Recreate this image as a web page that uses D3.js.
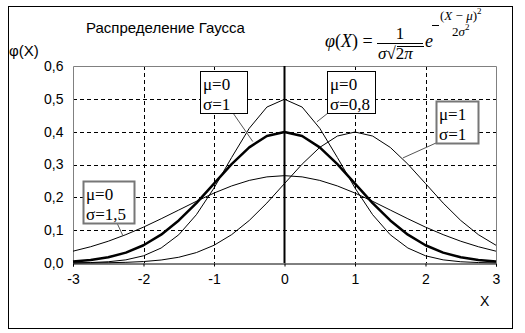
<!DOCTYPE html>
<html>
<head>
<meta charset="utf-8">
<script src="https://cdn.jsdelivr.net/npm/d3@7"></script>
<style>
  body { margin: 0; background: #fff; }
</style>
</head>
<body>
<svg id="chart" width="525" height="333"></svg>
<script>
// x values, step 0.25 from -3 to 3
const xs = [-3, -2.75, -2.5, -2.25, -2, -1.75, -1.5, -1.25, -1, -0.75, -0.5, -0.25, 0,
  0.25, 0.5, 0.75, 1, 1.25, 1.5, 1.75, 2, 2.25, 2.5, 2.75, 3];

// mu=0, sigma=1 (bold)
const s1 = [0.0044, 0.0091, 0.0175, 0.0317, 0.054, 0.0863, 0.1295, 0.1826, 0.242, 0.3011, 0.3521, 0.3867, 0.3989,
  0.3867, 0.3521, 0.3011, 0.242, 0.1826, 0.1295, 0.0863, 0.054, 0.0317, 0.0175, 0.0091, 0.0044];
// mu=0, sigma=0.8
const s08 = [0.0004, 0.0014, 0.0038, 0.0096, 0.0219, 0.0456, 0.086, 0.1471, 0.2283, 0.3213, 0.4102, 0.4749, 0.4987,
  0.4749, 0.4102, 0.3213, 0.2283, 0.1471, 0.086, 0.0456, 0.0219, 0.0096, 0.0038, 0.0014, 0.0004];
// mu=0, sigma=1.5
const s15 = [0.036, 0.0495, 0.0663, 0.0864, 0.1093, 0.1347, 0.1613, 0.1879, 0.213, 0.2347, 0.2516, 0.2623, 0.266,
  0.2623, 0.2516, 0.2347, 0.213, 0.1879, 0.1613, 0.1347, 0.1093, 0.0864, 0.0663, 0.0495, 0.036];
// mu=1, sigma=1
const m1 = [0.0001, 0.0004, 0.0009, 0.002, 0.0044, 0.0091, 0.0175, 0.0317, 0.054, 0.0863, 0.1295, 0.1826, 0.242,
  0.3011, 0.3521, 0.3867, 0.3989, 0.3867, 0.3521, 0.3011, 0.242, 0.1826, 0.1295, 0.0863, 0.054];

const xTicks = [-3, -2, -1, 0, 1, 2, 3];
const yTicks = [0, 0.1, 0.2, 0.3, 0.4, 0.5, 0.6];

const SANS = '"Liberation Sans", Arial, sans-serif';
const SERIF = '"Liberation Serif", "Times New Roman", "DejaVu Serif", serif';

const svg = d3.select('#chart');
const pLeft = 73, pRight = 496, pTop = 66, pBottom = 263;

const x = d3.scaleLinear().domain([-3, 3]).range([pLeft, pRight]);
const y = d3.scaleLinear().domain([0, 0.6]).range([pBottom, pTop]);

// outer frame
svg.append('rect')
  .attr('x', 8.5).attr('y', 6.5).attr('width', 504).attr('height', 322)
  .attr('fill', '#fff').attr('stroke', '#000');

// grid
const grid = svg.append('g');
grid.selectAll('line.gy')
  .data(yTicks.filter(d => d > 0 && d < 0.6))
  .enter().append('line')
  .attr('x1', pLeft).attr('x2', pRight)
  .attr('y1', d => Math.round(y(d)) + 0.5).attr('y2', d => Math.round(y(d)) + 0.5)
  .attr('stroke', '#000').attr('stroke-dasharray', '4,3');
grid.selectAll('line.gx')
  .data(xTicks.filter(d => d !== 0 && Math.abs(d) < 3))
  .enter().append('line')
  .attr('x1', d => Math.round(x(d)) + 0.5).attr('x2', d => Math.round(x(d)) + 0.5)
  .attr('y1', pTop).attr('y2', pBottom)
  .attr('stroke', '#000').attr('stroke-dasharray', '4,3');

// plot border (gray)
svg.append('path')
  .attr('d', `M${pLeft + 0.5},${pBottom}V${pTop + 0.5}H${pRight + 0.5}V${pBottom}`)
  .attr('fill', 'none').attr('stroke', '#808080');

// zero vertical line
svg.append('line')
  .attr('x1', x(0)).attr('x2', x(0)).attr('y1', pTop).attr('y2', pBottom)
  .attr('stroke', '#000').attr('stroke-width', 2);

// x axis
const xAxis = svg.append('g')
  .attr('transform', `translate(0,${pBottom + 0.5})`)
  .call(d3.axisBottom(x).tickValues(xTicks).tickSize(3).tickPadding(8).tickFormat(d3.format('d')));
xAxis.select('.domain').attr('stroke', '#000');
xAxis.selectAll('text')
  .style('font-family', SANS).style('font-size', '14px')
  .attr('fill', '#000')
  .text(d => String(d));

// y axis labels
const yAxis = svg.append('g')
  .attr('transform', `translate(${pLeft + 0.5},0)`)
  .call(d3.axisLeft(y).tickValues(yTicks).tickSize(0).tickPadding(10)
    .tickFormat(d => d3.format('.1f')(d).replace('.', ',')));
yAxis.select('.domain').remove();
yAxis.selectAll('text')
  .style('font-family', SANS).style('font-size', '14px')
  .attr('fill', '#000');

// curves
const line = d3.line().x((d, i) => x(xs[i])).y(d => y(d));
const series = [
  { values: s15, width: 1 },
  { values: m1, width: 1 },
  { values: s08, width: 1 },
  { values: s1, width: 2.5 }
];
svg.selectAll('path.curve')
  .data(series)
  .enter().append('path')
  .attr('class', 'curve')
  .attr('d', d => line(d.values))
  .attr('fill', 'none').attr('stroke', '#000')
  .attr('stroke-width', d => d.width)
  .attr('stroke-linejoin', 'round');

// labels with leader lines: box in pixels, target in data coords
const labels = [
  { lines: ['μ=0', 'σ=1'], bx: 200, by: 71, bw: 47, bh: 42, from: [233, 113], to: [-0.45, 0.37], border: '#000', bwid: 1 },
  { lines: ['μ=0', 'σ=0,8'], bx: 327, by: 71, bw: 48, bh: 42, from: [328, 113], to: [0.46, 0.43], border: '#000', bwid: 1 },
  { lines: ['μ=1', 'σ=1'], bx: 436, by: 101, bw: 42, bh: 42, from: [436, 143], to: [1.68, 0.32], border: '#777', bwid: 2 },
  { lines: ['μ=0', 'σ=1,5'], bx: 83, by: 181, bw: 51, bh: 42, from: [117, 223], to: [-2.29, 0.082], border: '#777', bwid: 2 }
];
const lab = svg.selectAll('g.lab').data(labels).enter().append('g');
lab.append('line')
  .attr('x1', d => d.from[0]).attr('y1', d => d.from[1])
  .attr('x2', d => x(d.to[0])).attr('y2', d => y(d.to[1]))
  .attr('stroke', '#555');
lab.append('rect')
  .attr('x', d => d.bx + 0.5).attr('y', d => d.by + 0.5)
  .attr('width', d => d.bw).attr('height', d => d.bh)
  .attr('fill', '#fff').attr('stroke', d => d.border).attr('stroke-width', d => d.bwid);
lab.each(function (d) {
  d3.select(this).selectAll('text').data(d.lines).enter().append('text')
    .style('font-family', SERIF).style('font-size', '17px')
    .attr('x', d.bx + 3).attr('y', (t, i) => d.by + 19 + i * 20)
    .attr('fill', '#000')
    .text(t => t);
});

// title and axis titles
const sans = (sel, size) => sel.style('font-family', SANS).style('font-size', size + 'px');
svg.append('text').attr('x', 86).attr('y', 33).call(sans, 15).text('Распределение Гаусса');
svg.append('text').attr('x', 9).attr('y', 56).call(sans, 15).text('φ(X)');
svg.append('text').attr('x', 480).attr('y', 306).call(sans, 14).text('X');

// formula
const serif = (sel, size) => sel.style('font-family', SERIF).style('font-size', size + 'px');
const f = svg.append('g').attr('fill', '#000');
const t1 = f.append('text').attr('x', 325).attr('y', 47).call(serif, 18);
t1.append('tspan').attr('font-style', 'italic').text('φ');
t1.append('tspan').text('(');
t1.append('tspan').attr('font-style', 'italic').text('X');
t1.append('tspan').text(') =');
f.append('text').attr('x', 400).attr('y', 39).call(serif, 17)
  .attr('text-anchor', 'middle').text('1');
f.append('line').attr('x1', 377).attr('x2', 423).attr('y1', 43.5).attr('y2', 43.5).attr('stroke', '#000');
const den = f.append('text').attr('x', 378).attr('y', 59).call(serif, 17);
den.append('tspan').attr('font-style', 'italic').text('σ');
den.append('tspan').text('√2');
den.append('tspan').attr('font-style', 'italic').text('π');
f.append('line').attr('x1', 397).attr('x2', 424).attr('y1', 46.5).attr('y2', 46.5).attr('stroke', '#000');
f.append('text').attr('x', 425).attr('y', 47).call(serif, 18)
  .attr('font-style', 'italic').text('e');
f.append('line').attr('x1', 432).attr('x2', 439).attr('y1', 25.5).attr('y2', 25.5).attr('stroke', '#000');
const num = f.append('text').attr('x', 440).attr('y', 20).call(serif, 13);
num.append('tspan').text('(');
num.append('tspan').attr('font-style', 'italic').text('X');
num.append('tspan').text(' − ');
num.append('tspan').attr('font-style', 'italic').text('μ');
num.append('tspan').text(')');
num.append('tspan').style('font-size', '9px').attr('dy', -6).text('2');
const ed = f.append('text').attr('x', 452).attr('y', 36).call(serif, 13);
ed.append('tspan').text('2');
ed.append('tspan').attr('font-style', 'italic').text('σ');
ed.append('tspan').style('font-size', '9px').attr('dy', -6).text('2');
</script>
</body>
</html>
